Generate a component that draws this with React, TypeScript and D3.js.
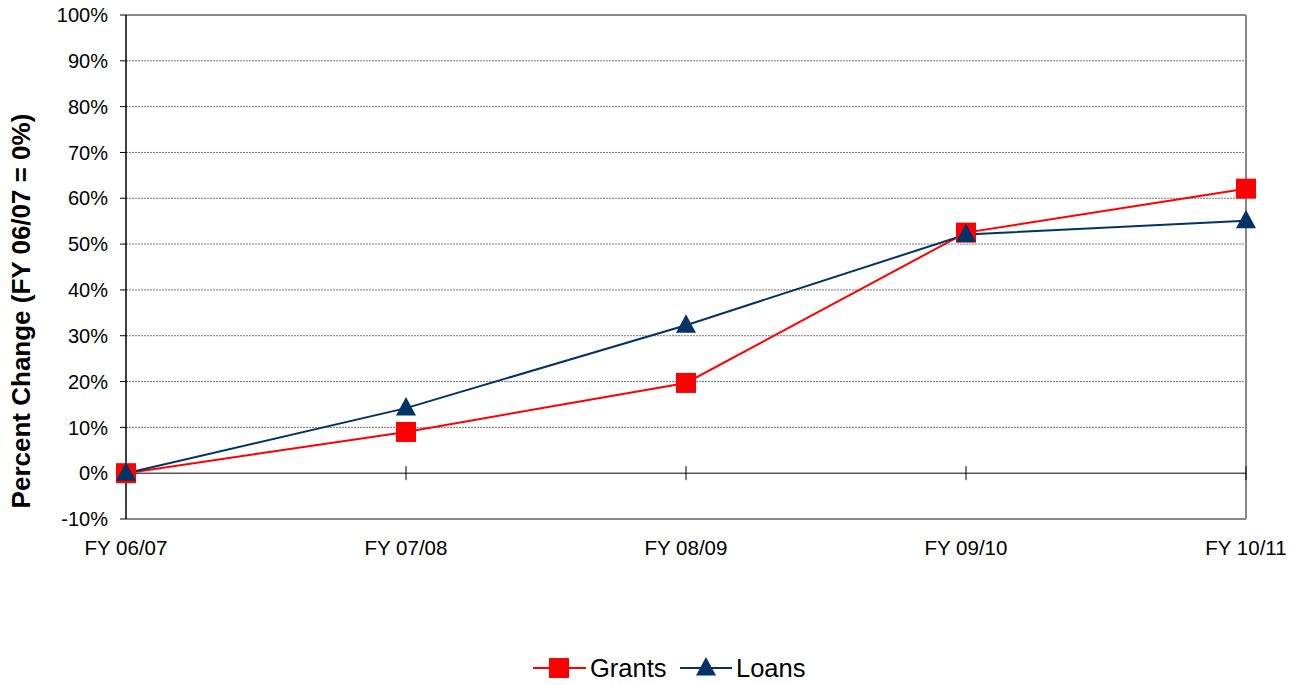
import React from "react";
import * as d3 from "d3";

const categories = ["FY 06/07", "FY 07/08", "FY 08/09", "FY 09/10", "FY 10/11"];
const grants = [0, 9.0, 19.7, 52.5, 62.1];
const loans = [0, 14.2, 32.3, 52.1, 55.1];
const yTicks = [-10, 0, 10, 20, 30, 40, 50, 60, 70, 80, 90, 100];

const W = 1308, H = 685;
const L = 126, R = 1246, T = 15, B = 519;

export default function App() {
  const x = d3.scalePoint<string>().domain(categories).range([L, R]);
  const y = d3.scaleLinear().domain([-10, 100]).range([B, T]);
  const line = d3.line<number>().x((_, i) => x(categories[i])!).y((d) => y(d));
  const font = "'Liberation Sans', Arial, sans-serif";
  const tri = (cx: number, cy: number, s = 10) =>
    `M${cx},${cy - s} L${cx + s},${cy + s * 0.85} L${cx - s},${cy + s * 0.85} Z`;
  const navy = "#003366";
  const red = "#FF0000";
  return (
    <svg width={W} height={H} style={{ position: "absolute", left: 0, top: 0, background: "#fff" }} fontFamily={font}>
      {yTicks.filter((t) => t !== 0 && t !== 100 && t !== -10).map((t) => (
        <line key={t} x1={L} x2={R} y1={y(t)} y2={y(t)} stroke="#777" strokeWidth={1} strokeDasharray="2,1" />
      ))}
      <line x1={L} x2={R} y1={T} y2={T} stroke="#888" strokeWidth={2} />
      <line x1={R} x2={R} y1={T} y2={B} stroke="#888" strokeWidth={2} />
      <line x1={L} x2={R} y1={B} y2={B} stroke="#888" strokeWidth={2} />
      <line x1={L} x2={R} y1={y(0)} y2={y(0)} stroke="#000" strokeWidth={1} />
      {categories.map((c) => (
        <line key={c} x1={x(c)} x2={x(c)} y1={y(0) - 7} y2={y(0) + 7} stroke="#000" strokeWidth={1} />
      ))}
      <line x1={L} x2={L} y1={T} y2={B} stroke="#000" strokeWidth={1.5} />
      {yTicks.map((t) => (
        <g key={t}>
          <line x1={L - 6} x2={L} y1={y(t)} y2={y(t)} stroke="#000" strokeWidth={1} />
          <text x={L - 18} y={y(t)} dy="0.36em" textAnchor="end" fontSize={20}>{t}%</text>
        </g>
      ))}
      {categories.map((c) => (
        <text key={c} x={x(c)} y={555} textAnchor="middle" fontSize={20.5}>{c}</text>
      ))}
      <text transform={`translate(30,${(T + B) / 2 + 44}) rotate(-90)`} textAnchor="middle" fontSize={26} fontWeight="bold">
        Percent Change (FY 06/07 = 0%)
      </text>
      <path d={line(grants)!} fill="none" stroke={red} strokeWidth={2} />
      <path d={line(loans)!} fill="none" stroke={navy} strokeWidth={2} />
      {grants.map((v, i) => (
        <rect key={i} x={x(categories[i])! - 10} y={y(v) - 10} width={20} height={20} fill={red} />
      ))}
      {loans.map((v, i) => (
        <path key={i} d={tri(x(categories[i])!, y(v) - 1)} fill={navy} />
      ))}
      <line x1={533} x2={586} y1={668} y2={668} stroke={red} strokeWidth={2} />
      <rect x={549} y={658} width={20} height={20} fill={red} />
      <text x={590} y={668} dy="0.36em" fontSize={25.5}>Grants</text>
      <line x1={680} x2={732} y1={668} y2={668} stroke={navy} strokeWidth={2} />
      <path d={tri(706, 667)} fill={navy} />
      <text x={736} y={668} dy="0.36em" fontSize={25.5}>Loans</text>
    </svg>
  );
}
